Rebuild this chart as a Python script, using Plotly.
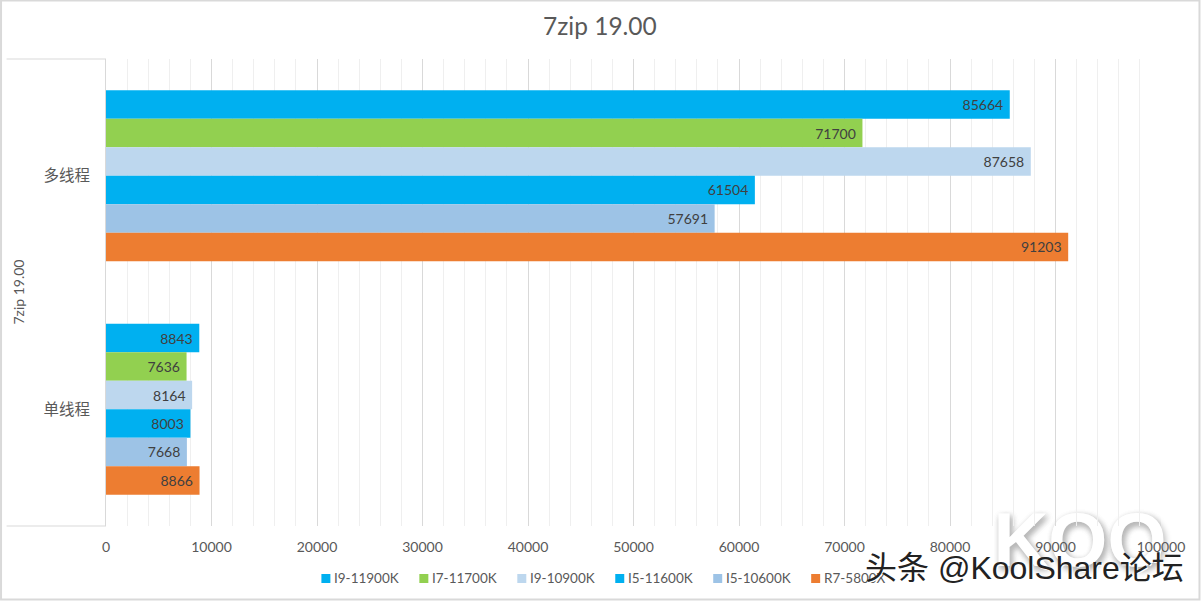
import plotly.graph_objects as go

# ==========================================
# Data
# ==========================================
categories = ["多线程", "单线程"]
series_names = ["I9-11900K", "I7-11700K", "I9-10900K", "I5-11600K", "I5-10600K", "R7-5800X"]
i9_11900k = [85664, 8843]
i7_11700k = [71700, 7636]
i9_10900k = [87658, 8164]
i5_11600k = [61504, 8003]
i5_10600k = [57691, 7668]
r7_5800x = [91203, 8866]
series_values = [i9_11900k, i7_11700k, i9_10900k, i5_11600k, i5_10600k, r7_5800x]
colors = ["#00B0F0", "#92D050", "#BDD7EE", "#00B0F0", "#9DC3E6", "#ED7D31"]

# ==========================================
# Layout settings (pixels)
# ==========================================
W, H = 1201, 601
left, right, top, bottom = 105.5, 1161, 59, 526
FONT = "Lato, 'Noto Sans CJK SC', sans-serif"
CJK = "'Noto Sans CJK SC', sans-serif"
TEXT = "#595959"
legend_x0 = 321
legend_step = 98


def fx(px):
    return (px - left) / (right - left)


def fy(py):
    return (bottom - py) / (bottom - top)


fig = go.Figure()

for name, values, color in zip(series_names, series_values, colors):
    fig.add_trace(go.Bar(
        y=categories,
        x=values,
        name=name,
        orientation="h",
        marker=dict(color=color, line=dict(width=0)),
        text=values,
        texttemplate="%{text}\u00a0",
        textposition="inside",
        insidetextanchor="end",
        textangle=0,
        constraintext="none",
        insidetextfont=dict(family=FONT, size=14, color="#404040"),
        showlegend=False,
    ))

logo_label = dict(text="KOO", textposition="middle center",
                  font=dict(family="Liberation Sans", size=76, weight=700, color="#FFFFFF",
                            shadow="2px 3px 6px #B8B8B8"))

# Frame and the two category bracket lines
shapes = [
    dict(type="rect", xref="paper", yref="paper", x0=fx(0.5), x1=fx(W - 1.5), y0=fy(0.5), y1=fy(H - 1.5),
         line=dict(color="#D9D9D9", width=2), layer="below"),
    dict(type="line", xref="paper", yref="paper", x0=fx(6), x1=0, y0=1, y1=1,
         line=dict(color="#D9D9D9", width=1)),
    dict(type="line", xref="paper", yref="paper", x0=fx(6), x1=0, y0=0, y1=0,
         line=dict(color="#D9D9D9", width=1)),
    # logo has to stay under the tick labels: the axis-ref copy hides the gridlines
    # but gets clipped at the plot edge, the paper-ref copy fills in below that
    dict(type="rect", xref="paper", yref="paper", x0=fx(985), x1=fx(1175),
         y0=fy(575), y1=fy(490), line=dict(width=0), fillcolor="rgba(0,0,0,0)", layer="below",
         label=logo_label),
    dict(type="rect", xref="x", yref="paper", x0=fx(985) * 100000, x1=fx(1175) * 100000,
         y0=fy(575), y1=fy(490), line=dict(width=0), fillcolor="rgba(0,0,0,0)", layer="below",
         label=logo_label),
]

annotations = [
    dict(text="7zip 19.00", xref="paper", yref="paper", x=fx(600), y=fy(26), showarrow=False,
         xanchor="center", yanchor="middle", font=dict(family=FONT, size=24.5, color=TEXT)),
    dict(text="7zip 19.00", xref="paper", yref="paper", x=fx(17), y=fy(292), showarrow=False,
         textangle=-90, xanchor="center", yanchor="middle", font=dict(family=FONT, size=14, color=TEXT)),
]

# Legend row
for i, (name, color) in enumerate(zip(series_names, colors)):
    x = legend_x0 + i * legend_step
    shapes.append(dict(type="rect", xref="paper", yref="paper", x0=fx(x), x1=fx(x + 9),
                       y0=fy(583), y1=fy(574), fillcolor=color, line=dict(width=0)))
    annotations.append(dict(text=name, xref="paper", yref="paper", x=fx(x + 11), y=fy(578),
                            showarrow=False, xanchor="left", yanchor="middle",
                            font=dict(family=FONT, size=13.5, color=TEXT)))

# Watermark text
annotations.append(dict(text="头条 @KoolShare论坛", xref="paper", yref="paper", x=fx(1024), y=fy(568),
                        showarrow=False, xanchor="center", yanchor="middle",
                        font=dict(family="'Liberation Sans', " + CJK, size=32, color="#222222",
                                  shadow="1px 1px 0 #FFFFFF")))

fig.update_layout(
    width=W,
    height=H,
    barmode="group",
    bargap=0.268,
    bargroupgap=0,
    paper_bgcolor="#FFFFFF",
    plot_bgcolor="#FFFFFF",
    margin=dict(l=left, r=W - right, t=top, b=H - bottom, pad=0),
    shapes=shapes,
    annotations=annotations,
    xaxis=dict(
        range=[0, 100000],
        dtick=10000,
        tickformat="d",
        showgrid=True,
        gridcolor="#D9D9D9",
        gridwidth=1,
        minor=dict(dtick=2000, showgrid=True, gridcolor="#EFEFEF", gridwidth=1),
        zeroline=False,
        showline=False,
        ticks="",
        ticklabelstandoff=11,
        tickfont=dict(family=FONT, size=14, color=TEXT),
    ),
    yaxis=dict(
        categoryorder="array",
        categoryarray=categories,
        autorange="reversed",
        showgrid=False,
        zeroline=False,
        showline=True,
        linecolor="#D9D9D9",
        linewidth=1,
        ticks="",
        ticklabelstandoff=12,
        tickfont=dict(family=CJK, size=15.5, color=TEXT),
    ),
)

# page margin would otherwise push the chart 8px off the corner
fig.write_html("out.html", config={"displayModeBar": False},
               post_script="document.body.style.margin='0';")
